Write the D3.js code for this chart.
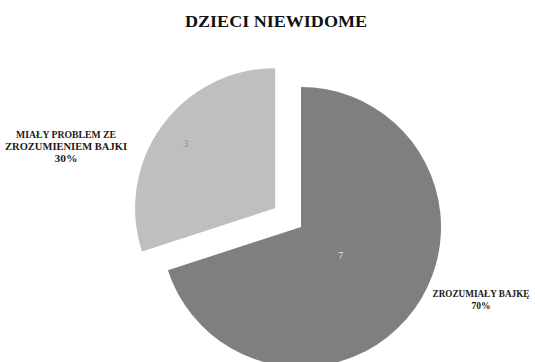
<!DOCTYPE html>
<html>
<head>
<meta charset="utf-8">
<script src="https://cdn.jsdelivr.net/npm/d3@7"></script>
<style>
  html, body { margin: 0; padding: 0; background: #fff; }
  svg { display: block; }
  text { font-family: "Liberation Serif", "DejaVu Serif", serif; }
</style>
</head>
<body>
<svg id="chart" width="535" height="362"></svg>
<script>
// Chart data
const title = "DZIECI NIEWIDOME";
const categories = ["ZROZUMIAŁY BAJKĘ", "MIAŁY PROBLEM ZE ZROZUMIENIEM BAJKI"];
const values = [7, 3];
const colors = ["#7f7f7f", "#bfbfbf"];
const explode = [0, 32];

const svg = d3.select("#chart");
const cx = 301, cy = 227, R = 140;

svg.append("text")
  .attr("x", 276).attr("y", 27)
  .attr("text-anchor", "middle")
  .attr("font-size", 16).attr("font-weight", "bold")
  .attr("textLength", 182).attr("lengthAdjust", "spacingAndGlyphs")
  .attr("fill", "#111")
  .text(title);

const total = d3.sum(values);
const pie = d3.pie().sort(null).value(d => d)(values);
const arc = d3.arc().innerRadius(0).outerRadius(R);

const g = svg.append("g").attr("transform", `translate(${cx},${cy})`);

const slices = g.selectAll("g.slice").data(pie).join("g")
  .attr("class", "slice")
  .attr("transform", (d, i) => {
    const a = (d.startAngle + d.endAngle) / 2;
    return `translate(${Math.sin(a) * explode[i]},${-Math.cos(a) * explode[i]})`;
  });

slices.append("path")
  .attr("d", arc)
  .attr("fill", (d, i) => colors[i]);

// value labels inside slices, each at its own distance from the centre
const labelRadius = [0.35, 0.79];
slices.append("text")
  .attr("transform", (d, i) => {
    const a = (d.startAngle + d.endAngle) / 2;
    const r = R * labelRadius[i];
    return `translate(${Math.sin(a) * r},${-Math.cos(a) * r})`;
  })
  .attr("text-anchor", "middle")
  .attr("dy", "0.35em")
  .attr("font-size", 10)
  .attr("font-family", "DejaVu Sans, sans-serif")
  .attr("fill", (d, i) => i === 0 ? "#e6e6e6" : "#8a8f99")
  .text(d => d.data);

// outside category labels
const pct = v => Math.round(v / total * 100) + "%";

const outLabels = [
  { lines: ["MIAŁY PROBLEM ZE", "ZROZUMIENIEM BAJKI", pct(values[1])], widths: [100, 122, 23], x: 66, y: 138 },
  { lines: ["ZROZUMIAŁY BAJKĘ", pct(values[0])], widths: [97, 19], x: 481, y: 297 }
];

outLabels.forEach(l => {
  const t = svg.append("text")
    .attr("text-anchor", "middle")
    .attr("font-size", 9.5).attr("font-weight", "bold")
    .attr("fill", "#1a1a1a");
  l.lines.forEach((s, i) => {
    t.append("tspan")
      .attr("x", l.x).attr("y", l.y + i * 12)
      .attr("textLength", l.widths[i]).attr("lengthAdjust", "spacingAndGlyphs")
      .text(s);
  });
});
</script>
</body>
</html>
